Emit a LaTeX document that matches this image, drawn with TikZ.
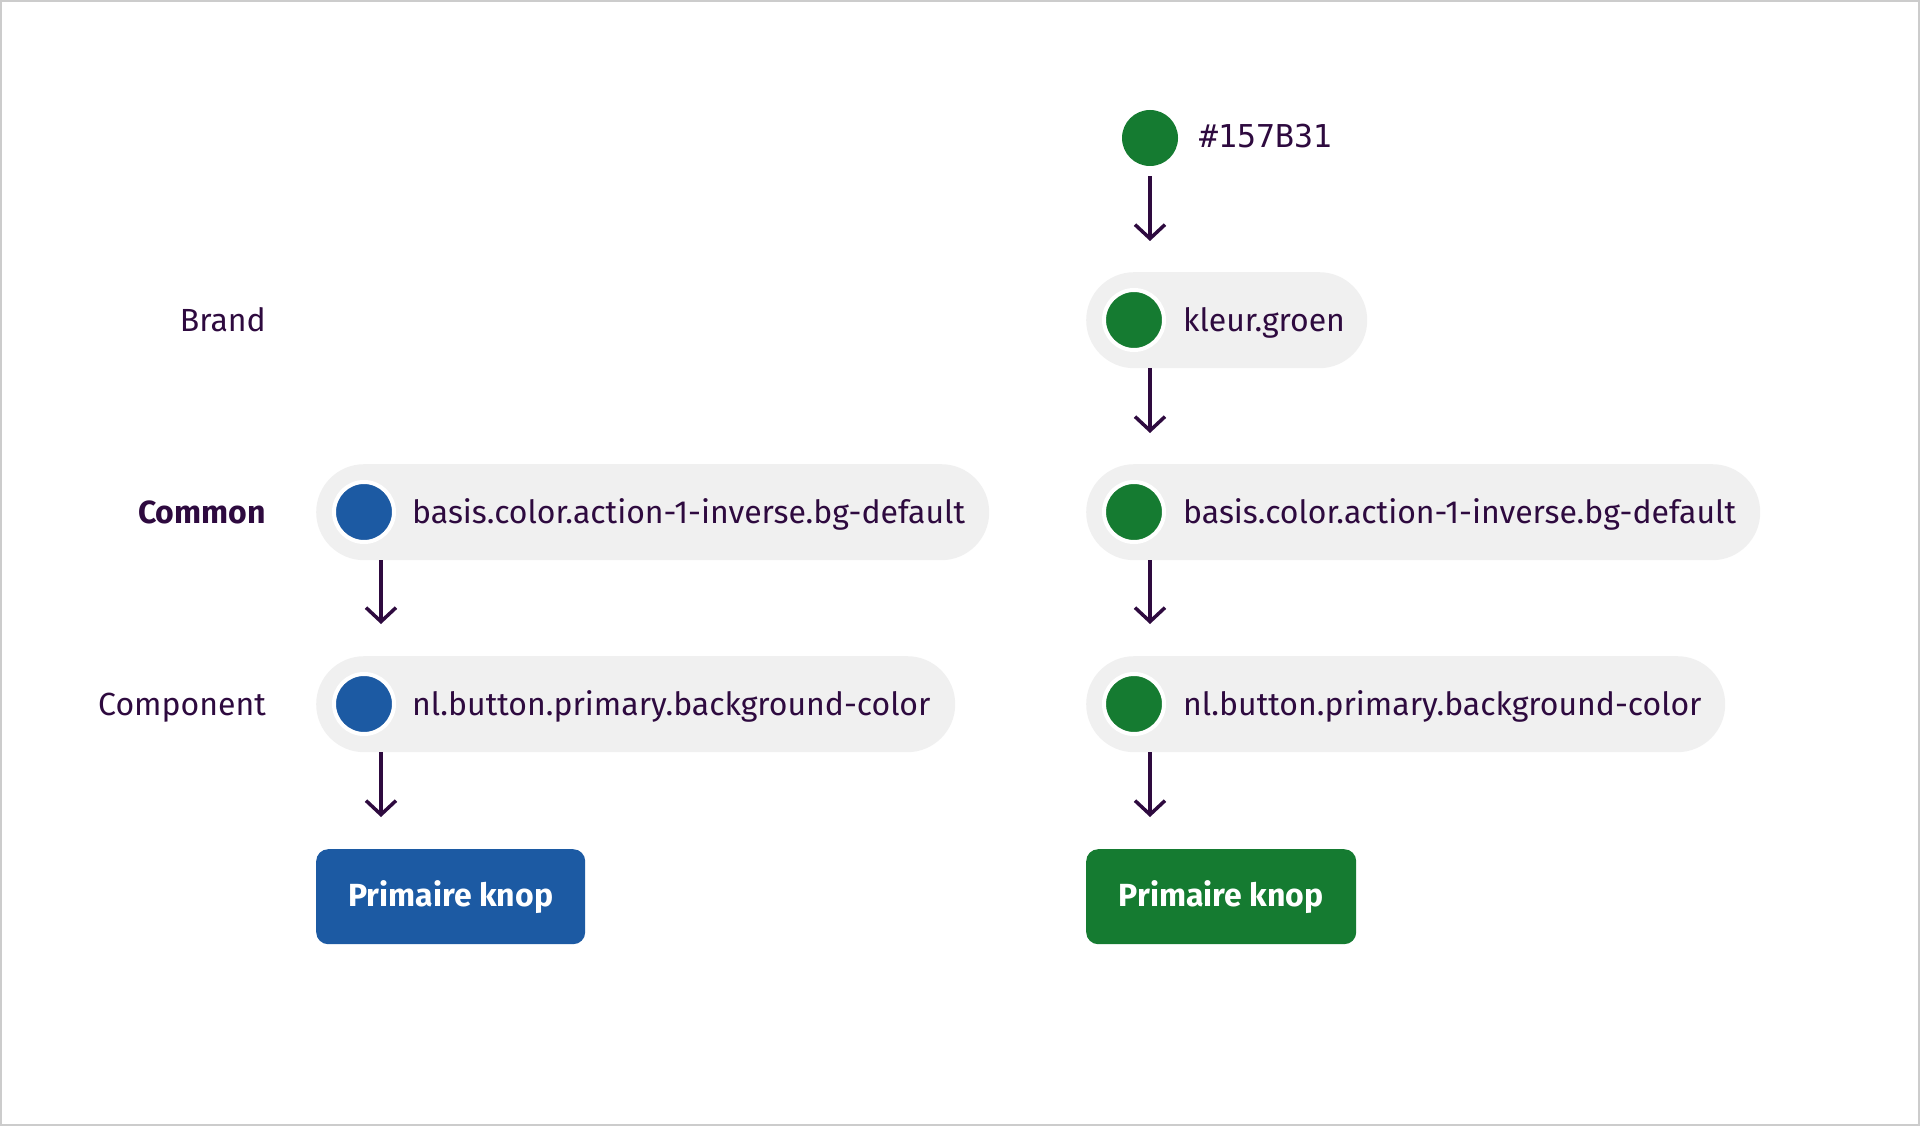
\documentclass[tikz,border=0pt]{standalone}
\usepackage{fontspec}
\setmainfont{Fira Sans}
\setmonofont{DejaVu Sans Mono}
\usetikzlibrary{arrows.meta}
\definecolor{ink}{HTML}{2E0A3F}
\definecolor{nlblue}{HTML}{1C5AA3}
\definecolor{nlgreen}{HTML}{157B31}
\definecolor{pillbg}{HTML}{F0F0F0}
\definecolor{framegray}{HTML}{CCCCCC}
\begin{document}
\begin{tikzpicture}[x=1pt,y=-1pt,
 pill/.style={fill=pillbg, rounded corners=48pt, minimum height=96pt, anchor=north west, inner sep=0, draw=none},
 dot/.style={circle, minimum size=60pt, inner sep=0, draw=white, line width=4pt},
 lbl/.style={anchor=base west, text=ink, font=\fontsize{32}{38}\selectfont, inner sep=0},
 rowlbl/.style={anchor=base east, text=ink, font=\fontsize{32}{38}\selectfont, inner sep=0},
 flow/.style={draw=ink, line width=3.5pt, -{Straight Barb[length=14pt,width=30pt]}},
 btn/.style={rounded corners=12pt, minimum height=95pt, anchor=north west, inner sep=0, text=white, font=\fontsize{32}{38}\selectfont\bfseries}
]
\useasboundingbox (0,0) rectangle (1920,1126);
\draw[framegray, line width=2pt, fill=white] (1,1) rectangle (1919,1125);

% row labels
\node[rowlbl] (brand) at (266,331) {Brand};
\node[rowlbl, font=\fontsize{32}{38}\selectfont\bfseries] (common) at (266,523) {Common};
\node[rowlbl] (component) at (266,715) {Component};

% ---- left column ----
\node[pill, minimum width=673pt] (lp3) at (316,464) {};
\node[dot, fill=nlblue] (ld3) at (364,512) {};
\node[lbl] (lt3) at (412,523) {basis.color.action-1-inverse.bg-default};

\node[pill, minimum width=639pt] (lp4) at (316,656) {};
\node[dot, fill=nlblue] (ld4) at (364,704) {};
\node[lbl] (lt4) at (412,715) {nl.button.primary.background-color};

\node[btn, fill=nlblue, minimum width=269pt] (lb) at (316,849) {Primaire knop};

\draw[flow] ([xshift=65pt]lp3.south west) -- ([xshift=65pt,yshift=32pt]lp4.north west);
\draw[flow] ([xshift=65pt]lp4.south west) -- ([xshift=65pt,yshift=32pt]lb.north west);

% ---- right column ----
\node[circle, minimum size=56pt, inner sep=0, fill=nlgreen] (hex) at (1150,138) {};
\node[anchor=base west, text=ink, inner sep=0, font=\fontsize{31.5}{36}\ttfamily] (hext) at (1199,148) {\#157B31};

\node[pill, minimum width=281pt] (rp2) at (1086,272) {};
\node[dot, fill=nlgreen] (rd2) at (1134,320) {};
\node[lbl] (rt2) at (1183,331) {kleur.groen};

\node[pill, minimum width=674pt] (rp3) at (1086,464) {};
\node[dot, fill=nlgreen] (rd3) at (1134,512) {};
\node[lbl] (rt3) at (1183,523) {basis.color.action-1-inverse.bg-default};

\node[pill, minimum width=639pt] (rp4) at (1086,656) {};
\node[dot, fill=nlgreen] (rd4) at (1134,704) {};
\node[lbl] (rt4) at (1183,715) {nl.button.primary.background-color};

\node[btn, fill=nlgreen, minimum width=270pt] (rb) at (1086,849) {Primaire knop};

\draw[flow] ([yshift=-10pt]hex.south) -- ([xshift=64pt,yshift=31pt]rp2.north west);
\draw[flow] ([xshift=64pt]rp2.south west) -- ([xshift=64pt,yshift=31pt]rp3.north west);
\draw[flow] ([xshift=64pt]rp3.south west) -- ([xshift=64pt,yshift=32pt]rp4.north west);
\draw[flow] ([xshift=64pt]rp4.south west) -- ([xshift=64pt,yshift=32pt]rb.north west);
\end{tikzpicture}
\end{document}
